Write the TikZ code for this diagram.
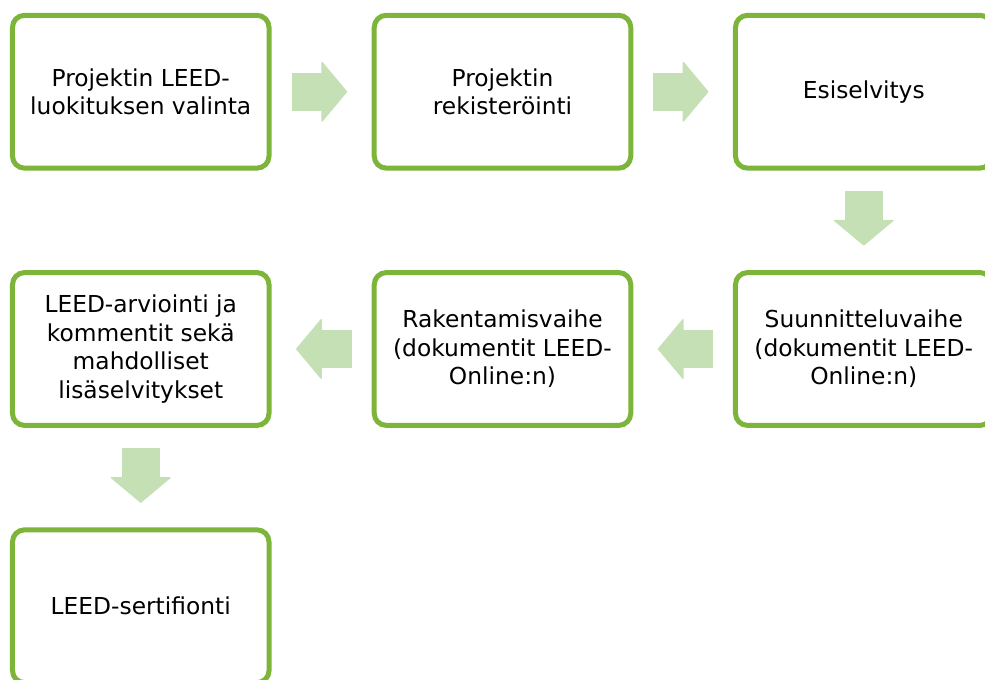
\documentclass[tikz,border=0pt]{standalone}
\usepackage{fontspec}
\setmainfont{DejaVu Sans}
\usepackage{xcolor}
\usepackage{tikz}
\usetikzlibrary{arrows.meta}
\definecolor{leafgreen}{RGB}{125,181,58}
\definecolor{palegreen}{RGB}{197,224,180}
\tikzset{blk/.style={rectangle,draw=leafgreen,line width=3.75pt,rounded corners=9pt,fill=white,
    minimum width=192.4pt,minimum height=114.6pt,inner sep=0pt,align=center,
    font=\fontsize{17.5}{21.5}\selectfont},
  arr/.style={draw=palegreen,line width=28.5pt,shorten <=15pt,shorten >=18.4pt,
    -{Triangle[width=46.5pt,length=19.5pt,line width=1pt,round]}}}

\begin{document}
\begin{tikzpicture}[x=0.75pt,y=-0.75pt]
    \useasboundingbox (0,0) rectangle (985,680);

    \node[blk] (a) at (140.75,91.75) {Projektin LEED-\\luokituksen valinta};
    \node[blk] (b) at (502.5,91.75) {Projektin\\rekisteröinti};
    \node[blk] (c) at (863.75,91.75) {Esiselvitys};
    \node[blk] (d) at (863.75,349) {Suunnitteluvaihe\\(dokumentit LEED-\\Online:n)};
    \node[blk] (e) at (502.5,349) {Rakentamisvaihe\\(dokumentit LEED-\\Online:n)};
    \node[blk] (f) at (140.75,349) {LEED-arviointi ja\\kommentit sekä\\mahdolliset\\lisäselvitykset};
    \node[blk] (g) at (140.75,606.25) {LEED-sertifionti};

    \draw [arr] (a) to [] (b);
    \draw [arr] (b) to [] (c);
    \draw [arr] (c) to [] (d);
    \draw [arr] (d) to [] (e);
    \draw [arr] (e) to [] (f);
    \draw [arr] (f) to [] (g);
\end{tikzpicture}
\end{document}
